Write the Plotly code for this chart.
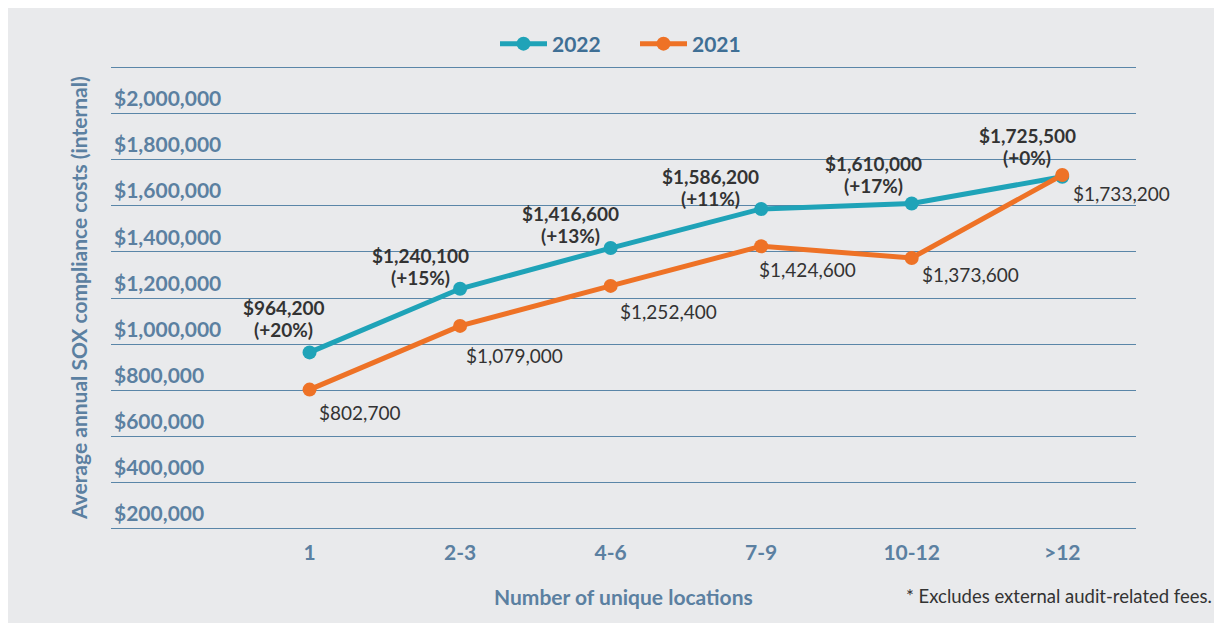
import plotly.graph_objects as go

categories = ["1", "2-3", "4-6", "7-9", "10-12", ">12"]
costs_2022 = [964200, 1240100, 1416600, 1586200, 1610000, 1725500]
change_2022 = ["+20%", "+15%", "+13%", "+11%", "+17%", "+0%"]
costs_2021 = [802700, 1079000, 1252400, 1424600, 1373600, 1733200]
y_ticks = [200000, 400000, 600000, 800000, 1000000, 1200000, 1400000,
           1600000, 1800000, 2000000, 2200000]
y_tick_labels = ["$200,000", "$400,000", "$600,000", "$800,000", "$1,000,000",
                 "$1,200,000", "$1,400,000", "$1,600,000", "$1,800,000",
                 "$2,000,000", ""]

# label offsets in pixels (style only)
off_2022 = [(-26, 45), (-40, 33), (-40, 35), (-51, 32), (-38, 40), (-35, 41)]
off_2021 = [(7, -23), (4, -30), (7, -26), (-4, -23), (8, -17), (9, -18)]

TEAL = "#1fa3b8"
ORANGE = "#ee7226"
STEEL = "#5b80a1"
GRID = "#5a86a8"
DARK = "#333333"
BG = "#e9eaec"
FONT = "Lato"

fig = go.Figure()
fig.add_trace(go.Scatter(
    x=categories, y=costs_2022, name="2022", mode="lines+markers",
    line=dict(color=TEAL, width=5), marker=dict(color=TEAL, size=14)))
fig.add_trace(go.Scatter(
    x=categories, y=costs_2021, name="2021", mode="lines+markers",
    line=dict(color=ORANGE, width=5), marker=dict(color=ORANGE, size=14)))


def fmt(v):
    return "${:,}".format(v)


for i, (v, ch, (dx, dy)) in enumerate(zip(costs_2022, change_2022, off_2022)):
    fig.add_annotation(x=i, y=v, text=f"<b>{fmt(v)}</b>",
                       showarrow=False, xanchor="center", yanchor="middle",
                       xshift=dx, yshift=dy,
                       font=dict(family=FONT, size=19, color=DARK))
    fig.add_annotation(x=i, y=v, text=f"<b>({ch})</b>",
                       showarrow=False, xanchor="center", yanchor="middle",
                       xshift=dx, yshift=dy - 22,
                       font=dict(family=FONT, size=19, color=DARK))
for i, (v, (dx, dy)) in enumerate(zip(costs_2021, off_2021)):
    fig.add_annotation(x=i, y=v, text=fmt(v), showarrow=False,
                       xanchor="left", yanchor="middle", xshift=dx, yshift=dy,
                       font=dict(family=FONT, size=19, color=DARK))

OFF = 8  # page body margin
L, R, T, B = 103, 86, 58, 93
W, H = 1214, 615
pw, ph = W - L - R, H - T - B


def px_x(p):
    return (p - OFF - L) / pw


def px_y(p):
    return (H - B - (p - OFF)) / ph


fig.add_annotation(xref="paper", yref="paper", x=px_x(78), y=px_y(298),
                   text="<b>Average annual SOX compliance costs (internal)</b>",
                   textangle=-90, showarrow=False, xanchor="center", yanchor="middle",
                   font=dict(family=FONT, size=21, color=STEEL))
fig.add_annotation(xref="paper", yref="paper", x=px_x(623), y=px_y(596),
                   text="<b>Number of unique locations</b>", showarrow=False,
                   xanchor="center", yanchor="middle",
                   font=dict(family=FONT, size=21, color=STEEL))
fig.add_annotation(xref="paper", yref="paper", x=px_x(1214), y=px_y(596),
                   text="* Excludes external audit-related fees.", showarrow=False,
                   xanchor="right", yanchor="middle",
                   font=dict(family=FONT, size=18.5, color=DARK))

fig.update_layout(
    width=W, height=H,
    margin=dict(l=L, r=R, t=T, b=B, autoexpand=False),
    paper_bgcolor=BG, plot_bgcolor="rgba(0,0,0,0)",
    font=dict(family=FONT, color=STEEL),
    showlegend=True,
    legend=dict(orientation="h", x=px_x(635), y=px_y(44), xanchor="center",
                yanchor="middle", bgcolor="rgba(0,0,0,0)",
                font=dict(family=FONT, size=21, color="#3f6f95", weight="bold"),
                itemwidth=47, entrywidth=78, entrywidthmode="pixels"),
    xaxis=dict(type="category", range=[-1.319, 5.49], showgrid=False,
               zeroline=False, showline=False, ticks="outside", ticklen=4,
               tickcolor="rgba(0,0,0,0)",
               tickfont=dict(family=FONT, size=21, color=STEEL, weight="bold")),
    yaxis=dict(range=[194000, 2206000], tickvals=y_ticks, ticktext=y_tick_labels,
               ticklabelposition="inside top", showgrid=True, gridcolor=GRID,
               gridwidth=1.3, zeroline=False, showline=False,
               tickfont=dict(family=FONT, size=21, color=STEEL, weight="bold")),
)

fig.write_html("out.html")
